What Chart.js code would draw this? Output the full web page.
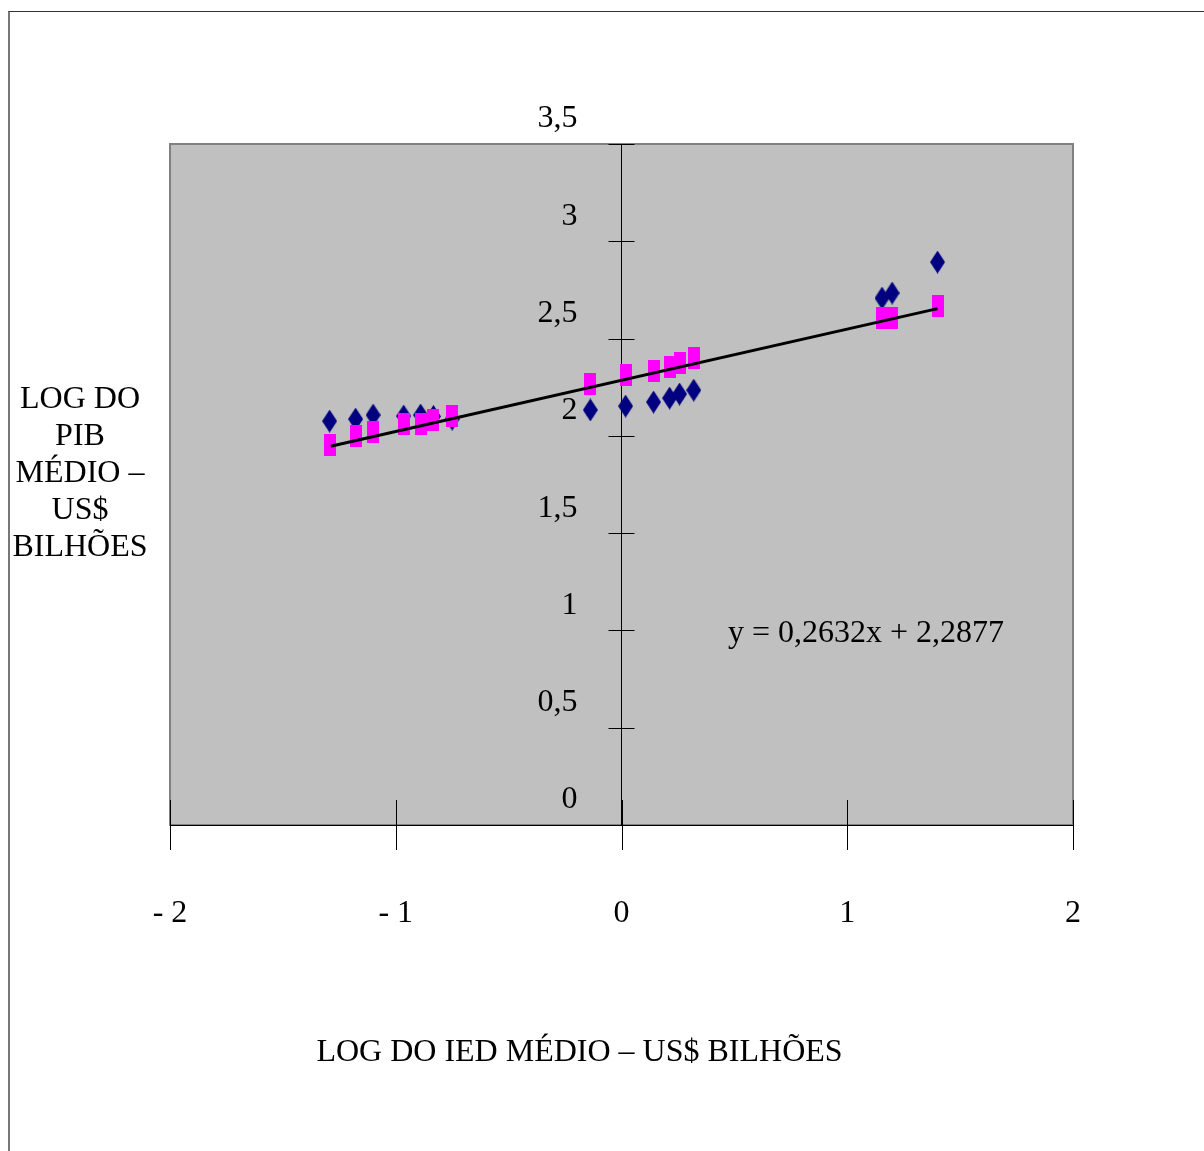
<!DOCTYPE html>
<html>
<head>
<meta charset="utf-8">
<script src="https://cdn.jsdelivr.net/npm/chart.js@4"></script>
<style>
  body { margin: 0; background: #fff; font-family: "Liberation Serif", "Times New Roman", serif; }
  #wrap { position: relative; width: 1204px; height: 1151px; overflow: hidden; }
  #frame { position: absolute; left: 8px; top: 11px; width: 1300px; height: 1300px;
           border-top: 1px solid #333; border-left: 2px solid #777; }
  canvas { position: absolute; left: 0; top: 0; }
  .lbl { position: absolute; color: #000; font-size: 32px; white-space: nowrap; }
  #ytitle { left: 0; width: 160px; top: 379px; text-align: center; line-height: 37px; }
  #xtitle { left: 0; width: 1159px; top: 1032px; text-align: center; }
  #eq { left: 728px; top: 613px; }
</style>
</head>
<body>
<div id="wrap">
  <div id="frame"></div>
  <canvas id="chart" width="1204" height="1151"></canvas>
  <div class="lbl" id="ytitle">LOG DO<br>PIB<br>MÉDIO –<br>US$<br>BILHÕES</div>
  <div class="lbl" id="xtitle">LOG DO IED MÉDIO – US$ BILHÕES</div>
  <div class="lbl" id="eq">y = 0,2632x + 2,2877</div>
</div>
<script>
// log do IED médio (eixo x)
const ied = [-1.293, -1.178, -1.100, -0.965, -0.890, -0.833, -0.750,
             -0.138, 0.018, 0.142, 0.213, 0.257, 0.320,
             1.154, 1.199, 1.400];
// log do PIB médio observado (losangos)
const pibObservado = [2.076, 2.086, 2.107, 2.102, 2.107, 2.100, 2.086,
                      2.133, 2.153, 2.174, 2.194, 2.215, 2.235,
                      2.708, 2.734, 2.893];
// log do PIB estimado (quadrados)
const pibEstimado = [1.953, 1.999, 2.020, 2.061, 2.061, 2.081, 2.102,
                     2.266, 2.312, 2.333, 2.354, 2.374, 2.400,
                     2.605, 2.605, 2.667];
// reta de tendência (extremos)
const tendenciaX = [-1.288, 1.400];
const tendenciaY = [1.947, 2.654];

const xTickLabels = ["- 2", "- 1", "0", "1", "2"];
const yTickLabels = ["0", "0,5", "1", "1,5", "2", "2,5", "3", "3,5"];

function marker(w, h, color, diamond) {
  const c = document.createElement("canvas");
  c.width = w; c.height = h;
  const g = c.getContext("2d");
  g.fillStyle = color;
  if (diamond) {
    g.beginPath();
    g.moveTo(w / 2, 0); g.lineTo(w, h / 2); g.lineTo(w / 2, h); g.lineTo(0, h / 2);
    g.closePath(); g.fill();
  } else {
    g.fillRect(0, 0, w, h);
  }
  return c;
}
const diamond = marker(15, 23, "#000080", true);
const square = marker(12, 22, "#ff00ff", false);

// fundo cinza da área do gráfico
const plotBg = {
  id: "plotBg",
  beforeDraw(chart) {
    const { ctx, chartArea: a } = chart;
    ctx.save();
    ctx.fillStyle = "#c0c0c0";
    ctx.fillRect(a.left, a.top, a.right - a.left, a.bottom - a.top);
    ctx.strokeStyle = "#808080";
    ctx.lineWidth = 2;
    ctx.strokeRect(a.left, a.top, a.right - a.left, a.bottom - a.top);
    ctx.restore();
  }
};

// marcas de escala cruzando os eixos
const crossTicks = {
  id: "crossTicks",
  afterDraw(chart) {
    const { ctx, scales: { x, y } } = chart;
    const x0 = x.getPixelForValue(0);
    const y0 = y.getPixelForValue(0);
    ctx.save();
    ctx.strokeStyle = "#000";
    ctx.lineWidth = 1;
    ctx.beginPath();
    x.ticks.forEach(t => {
      const px = Math.round(x.getPixelForValue(t.value)) + 0.5;
      ctx.moveTo(px, y0 - 25); ctx.lineTo(px, y0 + 25);
    });
    y.ticks.forEach(t => {
      const py = Math.round(y.getPixelForValue(t.value)) + 0.5;
      ctx.moveTo(x0 - 13, py); ctx.lineTo(x0 + 13, py);
    });
    ctx.stroke();
    ctx.restore();
  }
};

new Chart(document.getElementById("chart"), {
  type: "scatter",
  data: {
    datasets: [
      {
        type: "line",
        label: "Tendência",
        data: tendenciaX.map((v, i) => ({ x: v, y: tendenciaY[i] })),
        borderColor: "#000",
        borderWidth: 3,
        pointRadius: 0,
        fill: false,
        order: 0
      },
      {
        label: "PIB estimado",
        data: ied.map((v, i) => ({ x: v, y: pibEstimado[i] })),
        pointStyle: square,
        order: 1
      },
      {
        label: "PIB observado",
        data: ied.map((v, i) => ({ x: v, y: pibObservado[i] })),
        pointStyle: diamond,
        order: 2
      }
    ]
  },
  options: {
    responsive: false,
    animation: false,
    layout: { padding: { left: 170, top: 144, right: 131, bottom: 0 } },
    plugins: { legend: { display: false }, tooltip: { enabled: false } },
    scales: {
      x: {
        type: "linear",
        position: "bottom",
        min: -2, max: 2,
        afterFit: s => { s.height = 326; },
        ticks: {
          stepSize: 1,
          padding: 69,
          maxRotation: 0,
          color: "#000",
          font: { family: "Liberation Serif", size: 32 },
          callback: (v, i) => xTickLabels[i]
        },
        grid: { drawOnChartArea: false, drawTicks: false },
        border: { color: "#000", width: 1 }
      },
      y: {
        type: "linear",
        position: "center",
        min: 0, max: 3.5,
        afterFit: s => { s.width = 0; },
        ticks: {
          stepSize: 0.5,
          padding: 44,
          labelOffset: -25,
          color: "#000",
          font: { family: "Liberation Serif", size: 32 },
          callback: (v, i) => yTickLabels[i]
        },
        grid: { drawOnChartArea: false, drawTicks: false },
        border: { color: "#000", width: 1 }
      }
    }
  },
  plugins: [plotBg, crossTicks]
});
</script>
</body>
</html>
